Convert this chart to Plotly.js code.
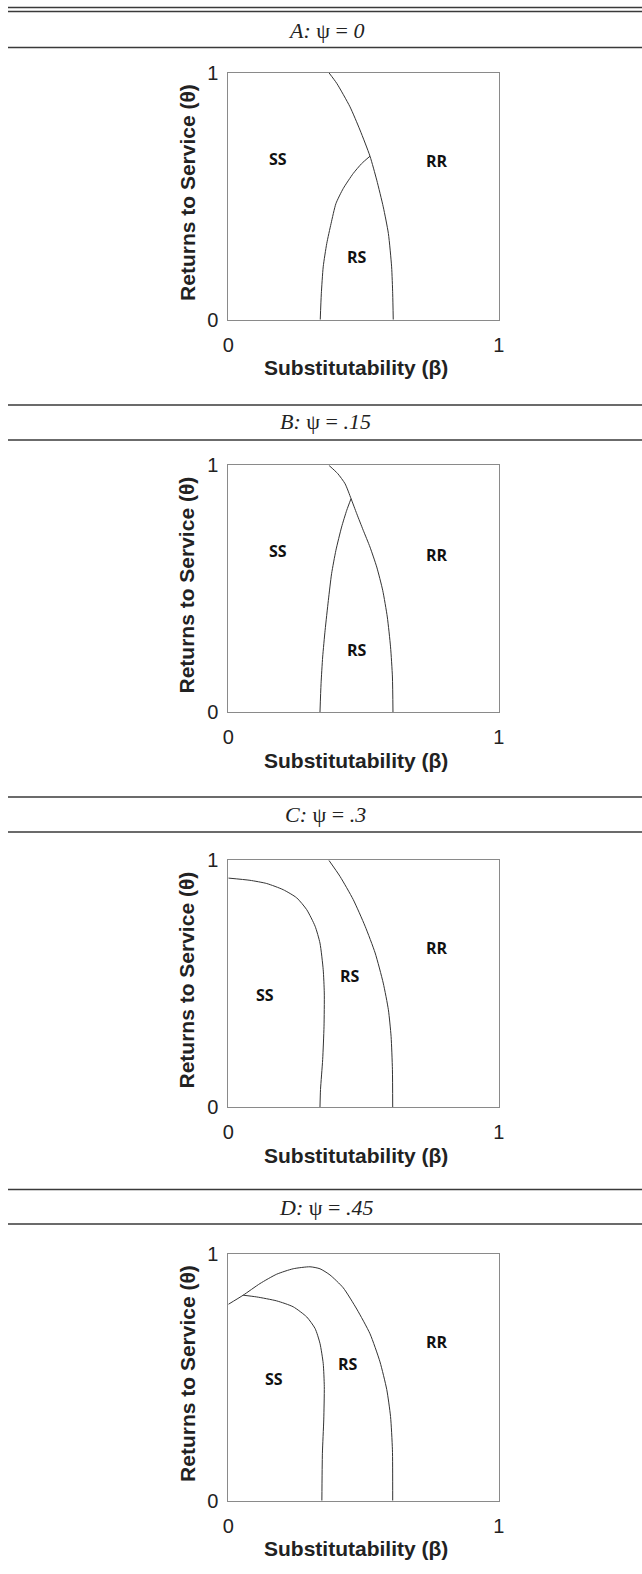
<!DOCTYPE html>
<html>
<head>
<meta charset="utf-8">
<script src="https://cdn.plot.ly/plotly-3.0.1.min.js"></script>
<style>html,body{margin:0;padding:0;background:#fff;}#chart{width:642px;height:1574px;}</style>
</head>
<body>
<div id="chart"></div>
<script>
// ---------- DATA ----------
const panelTitles = ["<i>A:</i> ψ = <i>0</i>", "<i>B:</i> ψ = <i>.15</i>", "<i>C:</i> ψ = <i>.3</i>", "<i>D:</i> ψ = <i>.45</i>"];
const xTickVals = [0, 1];
const xTickText = ["0", "1"];
const yTickVals = [0, 1];
const yTickText = ["0", "1"];
const xTitle = "Substitutability (β)";
const yTitle = "Returns to Service (θ)";
const regionNames = ["SS", "RS", "RR"];

// Panel A (psi = 0)
const A_outer_x = [0.372, 0.401, 0.450, 0.487, 0.524, 0.549, 0.573, 0.592, 0.604, 0.608, 0.610];
const A_outer_y = [1.000, 0.957, 0.862, 0.768, 0.662, 0.565, 0.457, 0.349, 0.214, 0.105, 0.000];
const A_inner_x = [0.340, 0.344, 0.351, 0.364, 0.380, 0.398, 0.425, 0.462, 0.493, 0.524];
const A_inner_y = [0.000, 0.105, 0.214, 0.308, 0.389, 0.470, 0.531, 0.592, 0.632, 0.662];
const A_label_x = [0.185, 0.477, 0.771];
const A_label_y = [0.650, 0.254, 0.642];

// Panel B (psi = .15)
const B_outer_x = [0.372, 0.405, 0.432, 0.454, 0.475, 0.499, 0.524, 0.549, 0.571, 0.588, 0.600, 0.607, 0.609];
const B_outer_y = [1.000, 0.966, 0.925, 0.865, 0.804, 0.737, 0.669, 0.588, 0.494, 0.386, 0.265, 0.143, 0.000];
const B_inner_x = [0.339, 0.343, 0.349, 0.358, 0.370, 0.382, 0.398, 0.419, 0.438, 0.454];
const B_inner_y = [0.000, 0.116, 0.224, 0.332, 0.453, 0.561, 0.656, 0.750, 0.818, 0.865];
const B_label_x = [0.185, 0.477, 0.771];
const B_label_y = [0.652, 0.251, 0.638];

// Panel C (psi = .3)
const C_inner_x = [0.000, 0.080, 0.142, 0.203, 0.253, 0.290, 0.321, 0.339, 0.351, 0.355, 0.354, 0.349, 0.341, 0.339];
const C_inner_y = [0.928, 0.919, 0.906, 0.881, 0.848, 0.800, 0.733, 0.665, 0.557, 0.463, 0.328, 0.193, 0.072, 0.000];
const C_outer_x = [0.372, 0.413, 0.462, 0.506, 0.543, 0.573, 0.592, 0.602, 0.607, 0.608];
const C_outer_y = [1.000, 0.935, 0.841, 0.733, 0.625, 0.503, 0.395, 0.287, 0.152, 0.000];
const C_label_x = [0.136, 0.450, 0.771];
const C_label_y = [0.456, 0.530, 0.644];

// Panel D (psi = .45)
const D_outer_x = [0.000, 0.055, 0.117, 0.179, 0.240, 0.302, 0.339, 0.376, 0.425, 0.475, 0.524, 0.561, 0.586, 0.600, 0.607, 0.608];
const D_outer_y = [0.795, 0.832, 0.879, 0.917, 0.939, 0.947, 0.939, 0.914, 0.862, 0.776, 0.676, 0.562, 0.450, 0.341, 0.206, 0.000];
const D_inner_x = [0.055, 0.105, 0.179, 0.240, 0.290, 0.321, 0.339, 0.351, 0.355, 0.353, 0.348, 0.346];
const D_inner_y = [0.832, 0.825, 0.809, 0.785, 0.744, 0.697, 0.637, 0.556, 0.462, 0.327, 0.192, 0.000];
const D_label_x = [0.169, 0.444, 0.771];
const D_label_y = [0.491, 0.552, 0.642];

// ---------- BUILD ----------
const W = 642, H = 1574;
const panels = [
  {curves: [[A_outer_x, A_outer_y], [A_inner_x, A_inner_y]], lx: A_label_x, ly: A_label_y},
  {curves: [[B_outer_x, B_outer_y], [B_inner_x, B_inner_y]], lx: B_label_x, ly: B_label_y},
  {curves: [[C_outer_x, C_outer_y], [C_inner_x, C_inner_y]], lx: C_label_x, ly: C_label_y},
  {curves: [[D_outer_x, D_outer_y], [D_inner_x, D_inner_y]], lx: D_label_x, ly: D_label_y}
];
const plotTops = [72.7, 465.3, 860.3, 1253.7];
const plotH = 247;
const plotL = 228.3, plotR = 498.7;
const titleY = [30, 422, 814, 1207];
const sepLines = [47.5, 405, 440, 797, 832, 1189.5, 1224];

const py = p => 1 - p / H;
const px = p => p / W;

const traces = [];
const layout = {
  width: W, height: H,
  margin: {l: 0, r: 0, t: 0, b: 0},
  paper_bgcolor: "#fff", plot_bgcolor: "#fff",
  showlegend: false,
  annotations: [],
  shapes: []
};

const tickFont = {family: "Liberation Sans, Arial, sans-serif", size: 20, color: "#222"};
const axTitleFont = {family: "Liberation Sans, Arial, sans-serif", size: 21, color: "#222"};

panels.forEach((p, i) => {
  const n = i + 1;
  const xa = "xaxis" + (n === 1 ? "" : n);
  const ya = "yaxis" + (n === 1 ? "" : n);
  const xr = "x" + (n === 1 ? "" : n);
  const yr = "y" + (n === 1 ? "" : n);
  const top = plotTops[i], bot = top + plotH;
  layout[xa] = {
    domain: [px(plotL), px(plotR)], anchor: yr, range: [0, 1],
    showgrid: false, zeroline: false, showline: true, mirror: true,
    linecolor: "#8a8a8a", linewidth: 1, ticks: "",
    tickvals: xTickVals, ticktext: xTickText, tickfont: tickFont,
    ticklabelstandoff: 7, fixedrange: true
  };
  layout[ya] = {
    domain: [py(bot), py(top)], anchor: xr, range: [0, 1],
    showgrid: false, zeroline: false, showline: true, mirror: true,
    linecolor: "#8a8a8a", linewidth: 1, ticks: "",
    tickvals: yTickVals, ticktext: yTickText, tickfont: tickFont,
    ticklabelstandoff: 5, fixedrange: true
  };
  p.curves.forEach(c => {
    traces.push({
      x: c[0], y: c[1], xaxis: xr, yaxis: yr, type: "scatter", mode: "lines",
      line: {color: "#333", width: 1, shape: "spline", smoothing: 0.6},
      hoverinfo: "skip", cliponaxis: true
    });
  });
  regionNames.forEach((name, k) => {
    layout.annotations.push({
      xref: xr, yref: yr, x: p.lx[k], y: p.ly[k], text: "<b>" + name + "</b>",
      showarrow: false, font: {family: "Open Sans, Noto Sans, sans-serif", size: 16, color: "#111"}
    });
  });
  // panel title
  layout.annotations.push({
    xref: "paper", yref: "paper", x: px(326), y: py(titleY[i]), text: panelTitles[i],
    showarrow: false, xanchor: "center", yanchor: "middle",
    font: {family: "Liberation Serif, Times New Roman, serif", size: 22, color: "#222"}
  });
  // axis titles
  layout.annotations.push({
    xref: "paper", yref: "paper", x: px(355.5), y: py(bot + 48), text: "<b>" + xTitle + "</b>",
    showarrow: false, xanchor: "center", yanchor: "middle", font: axTitleFont
  });
  layout.annotations.push({
    xref: "paper", yref: "paper", x: px(186.7), y: py(top + plotH / 2 - 4), text: "<b>" + yTitle + "</b>",
    showarrow: false, xanchor: "center", yanchor: "middle", textangle: -90, font: axTitleFont
  });
});

// horizontal rules
[7.5, 11.5].concat(sepLines).forEach(yy => {
  layout.shapes.push({
    type: "line", xref: "paper", yref: "paper", x0: px(8), x1: 1, y0: py(yy), y1: py(yy),
    line: {color: "#3a3a3a", width: 1.6}
  });
});

Plotly.newPlot("chart", traces, layout, {displayModeBar: false, staticPlot: true});
</script>
</body>
</html>
